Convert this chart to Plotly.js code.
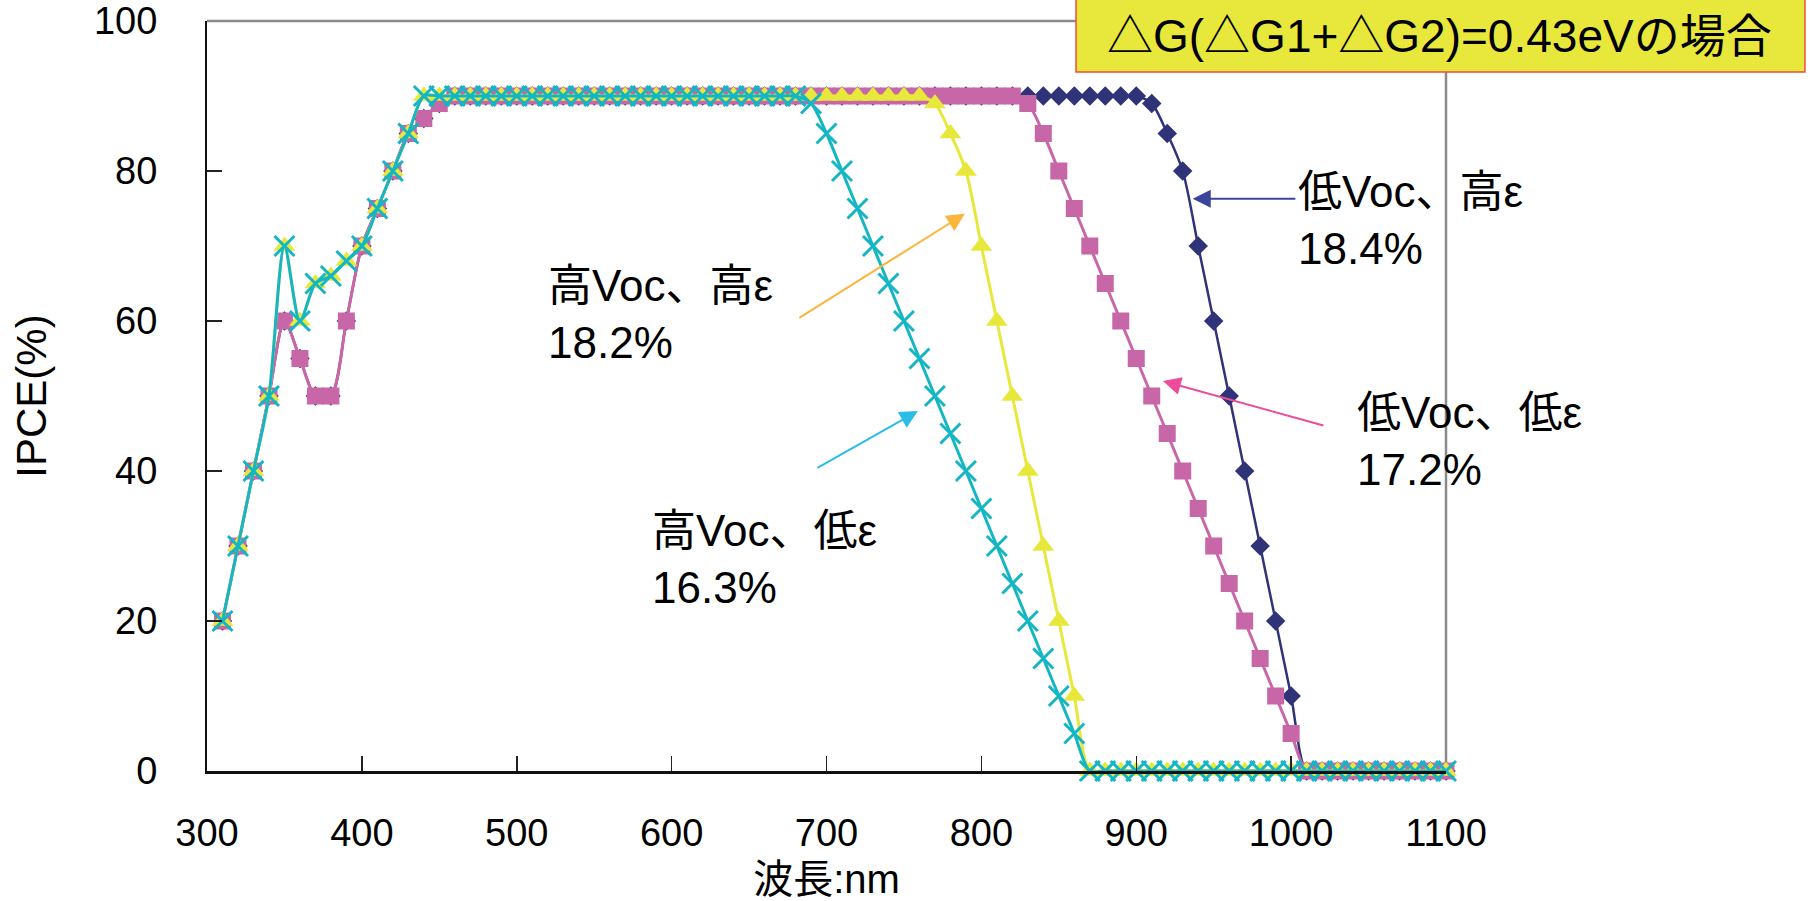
<!DOCTYPE html>
<html>
<head>
<meta charset="utf-8">
<script src="https://cdn.plot.ly/plotly-3.0.1.min.js"></script>
<style>
  html, body { margin: 0; padding: 0; background: #ffffff; }
  #chart { width: 1814px; height: 901px; }
</style>
</head>
<body>
<div id="chart"></div>
<script>
// Wavelength (nm)
const wavelength = [
  310, 320, 330, 340, 350, 360, 370, 380, 390, 400,
  410, 420, 430, 440, 450, 460, 470, 480, 490, 500,
  510, 520, 530, 540, 550, 560, 570, 580, 590, 600,
  610, 620, 630, 640, 650, 660, 670, 680, 690, 700,
  710, 720, 730, 740, 750, 760, 770, 780, 790, 800,
  810, 820, 830, 840, 850, 860, 870, 880, 890, 900,
  910, 920, 930, 940, 950, 960, 970, 980, 990, 1000,
  1010, 1020, 1030, 1040, 1050, 1060, 1070, 1080, 1090, 1100
];

// 低Voc、高ε (navy diamonds)
const lowVocHighEps = [
  20, 30, 40, 50, 60, 55, 50, 50, 60, 70,
  75, 80, 85, 87, 89, 90, 90, 90, 90, 90,
  90, 90, 90, 90, 90, 90, 90, 90, 90, 90,
  90, 90, 90, 90, 90, 90, 90, 90, 90, 90,
  90, 90, 90, 90, 90, 90, 90, 90, 90, 90,
  90, 90, 90, 90, 90, 90, 90, 90, 90, 90,
  89, 85, 80, 70, 60, 50, 40, 30, 20, 10,
  0, 0, 0, 0, 0, 0, 0, 0, 0, 0
];

// 低Voc、低ε (pink squares)
const lowVocLowEps = [
  20, 30, 40, 50, 60, 55, 50, 50, 60, 70,
  75, 80, 85, 87, 89, 90, 90, 90, 90, 90,
  90, 90, 90, 90, 90, 90, 90, 90, 90, 90,
  90, 90, 90, 90, 90, 90, 90, 90, 90, 90,
  90, 90, 90, 90, 90, 90, 90, 90, 90, 90,
  90, 90, 89, 85, 80, 75, 70, 65, 60, 55,
  50, 45, 40, 35, 30, 25, 20, 15, 10, 5,
  0, 0, 0, 0, 0, 0, 0, 0, 0, 0
];

// 高Voc、高ε (yellow triangles)
const highVocHighEps = [
  20, 30, 40, 50, 70, 60, 65, 66, 68, 70,
  75, 80, 85, 90, 90, 90, 90, 90, 90, 90,
  90, 90, 90, 90, 90, 90, 90, 90, 90, 90,
  90, 90, 90, 90, 90, 90, 90, 90, 90, 90,
  90, 90, 90, 90, 90, 90, 89, 85, 80, 70,
  60, 50, 40, 30, 20, 10, 0, 0, 0, 0,
  0, 0, 0, 0, 0, 0, 0, 0, 0, 0,
  0, 0, 0, 0, 0, 0, 0, 0, 0, 0
];

// 高Voc、低ε (cyan crosses)
const highVocLowEps = [
  20, 30, 40, 50, 70, 60, 65, 66, 68, 70,
  75, 80, 85, 90, 90, 90, 90, 90, 90, 90,
  90, 90, 90, 90, 90, 90, 90, 90, 90, 90,
  90, 90, 90, 90, 90, 90, 90, 90, 89, 85,
  80, 75, 70, 65, 60, 55, 50, 45, 40, 35,
  30, 25, 20, 15, 10, 5, 0, 0, 0, 0,
  0, 0, 0, 0, 0, 0, 0, 0, 0, 0,
  0, 0, 0, 0, 0, 0, 0, 0, 0, 0
];

const xTickVals = [300, 400, 500, 600, 700, 800, 900, 1000, 1100];
const yTickVals = [0, 20, 40, 60, 80, 100];

const seriesNames = ['低Voc、高ε', '低Voc、低ε', '高Voc、高ε', '高Voc、低ε'];
const seriesEff = ['18.4%', '17.2%', '18.2%', '16.3%'];
const titleText = '△G(△G1+△G2)=0.43eVの場合';

const FONT = 'Liberation Sans, Arial, Noto Sans CJK JP, sans-serif';

const NAVY = '#303378';
const PINK = '#C867A7';
const YELLOW = '#E8E83C';
const CYAN = '#14B6C4';

function trace(y, name, color, symbol, size, lw, extraMarker) {
  return {
    type: 'scatter', mode: 'lines+markers', name: name,
    x: wavelength, y: y,
    line: { color: color, width: lw, shape: 'spline', smoothing: 0.8 },
    marker: Object.assign({ color: color, symbol: symbol, size: size, line: { width: 0 } }, extraMarker || {}),
    cliponaxis: false,
    hoverinfo: 'x+y+name'
  };
}

const data = [
  trace(lowVocHighEps, seriesNames[0], NAVY, 'diamond', 15, 2.5),
  trace(lowVocLowEps, seriesNames[1], PINK, 'square', 17, 3),
  trace(highVocHighEps, seriesNames[2], YELLOW, 'triangle-up', 19, 3),
  trace(highVocLowEps, seriesNames[3], CYAN, 'x-thin-open', 20, 3, { line: { width: 3, color: CYAN } })
];

function label(x, y, text) {
  return {
    xref: 'x', yref: 'y', x: x, y: y, text: text, showarrow: false,
    xanchor: 'left', yanchor: 'middle', align: 'left',
    font: { family: FONT, size: 44, color: '#000000' }
  };
}
function arrow(xHead, yHead, xTail, yTail, color) {
  return {
    xref: 'x', yref: 'y', axref: 'x', ayref: 'y',
    x: xHead, y: yHead, ax: xTail, ay: yTail, text: '',
    showarrow: true, arrowhead: 2, arrowsize: 1.8, arrowwidth: 2,
    arrowcolor: color, standoff: 0, startstandoff: 0
  };
}

const annotations = [
  label(1003, 73.5, seriesNames[0] + '<br>' + seriesEff[0]),
  label(1041, 44.0, seriesNames[1] + '<br>' + seriesEff[1]),
  label(519, 61.0, seriesNames[2] + '<br>' + seriesEff[2]),
  label(586, 28.3, seriesNames[3] + '<br>' + seriesEff[3]),
  arrow(936.5, 76.3, 1003.7, 76.3, '#3A449A'),
  arrow(789.3, 74.3, 681.5, 60.3, '#FBB53A'),
  arrow(917.2, 52.0, 1021.8, 46.0, '#EE4C98'),
  arrow(759.0, 48.0, 693.2, 40.3, '#2ABDE6'),
  {
    xref: 'paper', yref: 'paper', x: 0.995, y: 0.98, text: titleText,
    showarrow: false, xanchor: 'center', yanchor: 'middle',
    font: { family: FONT, size: 46, color: '#000000' }
  }
];

const shapes = [
  { type: 'line', xref: 'paper', yref: 'paper', x0: 0, x1: 1, y0: 1, y1: 1,
    line: { color: '#8a8a8a', width: 2.5 }, layer: 'below' },
  { type: 'line', xref: 'paper', yref: 'paper', x0: 1, x1: 1, y0: 0, y1: 1,
    line: { color: '#8a8a8a', width: 2.5 }, layer: 'below' },
  { type: 'rect', xref: 'paper', yref: 'paper', x0: 0.7014, x1: 1.2897, y0: 0.932, y1: 1.035,
    fillcolor: YELLOW, line: { color: '#E8503C', width: 1.5 }, layer: 'above' }
];

const layout = {
  width: 1814, height: 901,
  margin: { l: 207, r: 368, t: 21, b: 130 },
  paper_bgcolor: '#ffffff', plot_bgcolor: '#ffffff',
  showlegend: false,
  font: { family: FONT, color: '#000000' },
  xaxis: {
    range: [300, 1100], tickvals: xTickVals, ticktext: xTickVals.map(String),
    ticks: 'inside', ticklen: 15, tickwidth: 1.5, tickcolor: '#222222',
    showline: true, linecolor: '#111111', linewidth: 2.5,
    showgrid: false, zeroline: false,
    tickfont: { family: FONT, size: 38, color: '#000000' },
    ticklabelstandoff: 27,
    title: { text: '波長:nm', font: { family: FONT, size: 40, color: '#000000' }, standoff: 16 }
  },
  yaxis: {
    range: [0, 100], tickvals: yTickVals, ticktext: yTickVals.map(String),
    ticks: 'inside', ticklen: 15, tickwidth: 1.5, tickcolor: '#222222',
    showline: true, linecolor: '#111111', linewidth: 2,
    showgrid: false, zeroline: false,
    tickfont: { family: FONT, size: 38, color: '#000000' },
    ticklabelstandoff: 40,
    title: { text: 'IPCE(%)', font: { family: FONT, size: 42, color: '#000000' }, standoff: 34 }
  },
  annotations: annotations,
  shapes: shapes
};

Plotly.newPlot('chart', data, layout, { displayModeBar: false, staticPlot: true });
</script>
</body>
</html>
